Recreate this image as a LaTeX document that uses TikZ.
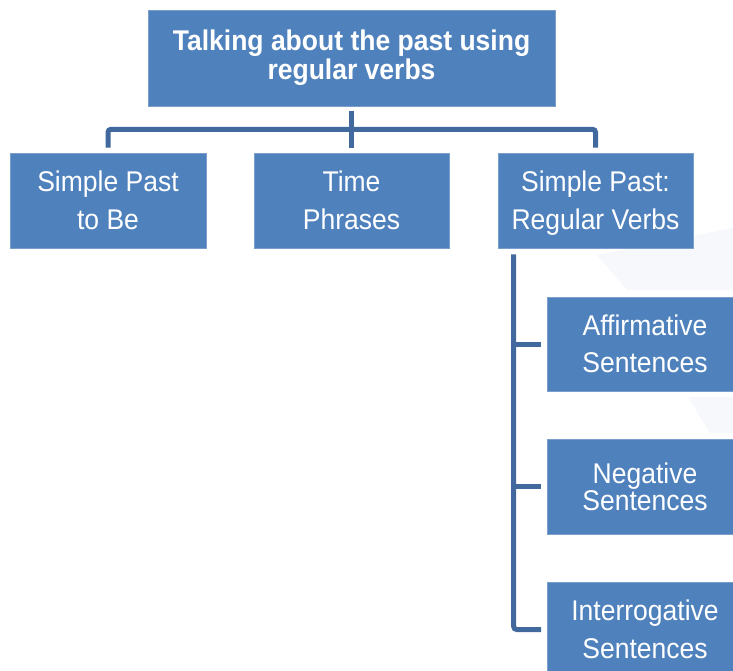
\documentclass[tikz,border=0pt]{standalone}
\usepackage{fontspec}
\setmainfont{Liberation Sans}[FakeStretch=0.93]
\usetikzlibrary{calc}
\definecolor{boxblue}{HTML}{4F81BD}
\definecolor{boxedge}{HTML}{7A9FCF}
\definecolor{connblue}{HTML}{41699E}
\definecolor{faint}{HTML}{F6F8FC}
\newcommand\myhi{\rule{0pt}{31pt}}
\tikzset{
  topbox/.style={fill=boxblue, draw=boxedge, line width=0.6pt, text=white, align=center,
    minimum width=407pt, minimum height=96pt, inner sep=0pt,
    font=\fontsize{28.5}{29}\selectfont\bfseries},
  childbox/.style={fill=boxblue, draw=boxedge, line width=0.6pt, text=white, align=center,
    minimum width=195pt, minimum height=95pt, inner sep=0pt,
    font=\fontsize{28.5}{37.5}\selectfont},
  tightbox/.style={childbox, font=\fontsize{28.5}{27}\selectfont},
  conn/.style={draw=connblue, line width=5pt, rounded corners=3pt}
}
\begin{document}
\begin{tikzpicture}[x=1pt,y=-1pt]
\useasboundingbox (0,0) rectangle (733,671);
\clip (0,0) rectangle (733,671);
\fill[white] (0,0) rectangle (733,671);
% faint background shapes
\fill[faint] (597,255) -- (733,228) -- (733,290) -- (627,290) -- cycle;
\fill[faint] (688,397) -- (733,397) -- (733,433) -- (710,433) -- cycle;
% boxes
\node[topbox] (top) at (351.5,58) {Talking about the past using\\regular verbs};
\node[childbox, minimum width=196pt] (c1) at (108,200.5) {Simple Past\myhi\\to Be\strut};
\node[childbox] (c2) at (351.5,200.5) {Time\myhi\\Phrases\strut};
\node[childbox] (c3) at (595.5,200.5) {Simple Past:\myhi\\Regular Verbs\strut};
\node[childbox, minimum height=94pt] (r1) at (645,344) {Affirmative\myhi\\Sentences\strut};
\node[tightbox] (r2) at (645,486.5) {Negative\\Sentences};
\node[childbox] (r3) at (645,629.5) {Interrogative\myhi\\Sentences\strut};
% connectors top level
\coordinate (tb) at ($(top.south)+(0,5)$);
\coordinate (bar) at ($(tb)+(0,18)$);
\draw[conn] ($(c1.north)+(0,-5)$) |- (bar) -| ($(c3.north)+(0,-5)$);
\draw[conn] (tb) -- ($(c2.north)+(0,-5)$);
% connectors right column
\coordinate (vtop) at ($(c3.south west)+(16,6)$);
\draw[conn] (vtop) |- ($(r3.west)+(-6,0)$);
\draw[conn] (vtop |- r1.west) -- ($(r1.west)+(-6,0)$);
\draw[conn] (vtop |- r2.west) -- ($(r2.west)+(-6,0)$);
\end{tikzpicture}
\end{document}
